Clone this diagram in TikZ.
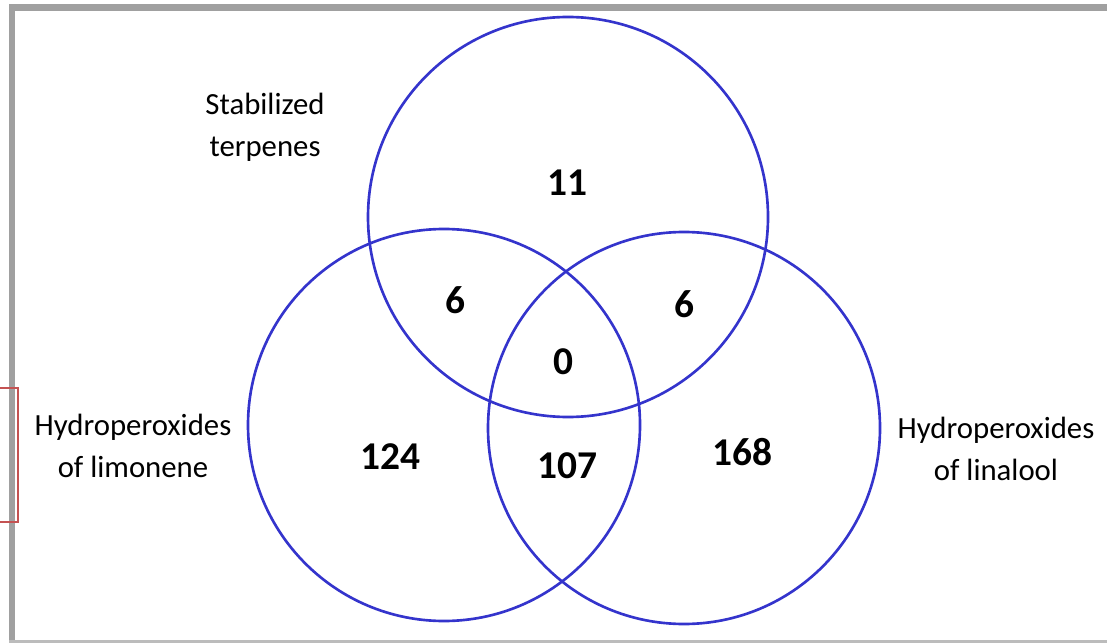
\documentclass[tikz,border=0pt]{standalone}
\usepackage{fontspec}
\setmainfont{Carlito}
\definecolor{ringblue}{RGB}{52,52,204}
\definecolor{framegray}{RGB}{160,160,160}
\definecolor{markred}{RGB}{196,82,82}
\begin{document}
\begin{tikzpicture}[x=0.01cm, y=-0.01cm,
  setlabel/.style={align=center, font=\fontsize{8.75}{12}\selectfont},
  count/.style={font=\fontsize{11.2}{13}\selectfont\bfseries}]
%definitions
\def\topcirc{(568,217) circle [radius=200]}
\def\leftcirc{(444,425) circle [radius=196]}
\def\rightcirc{(684,428) circle [radius=196]}

\useasboundingbox (0,0) rectangle (1107,643);

%frame
\fill[framegray] (9,4) rectangle (15,643);
\fill[framegray] (9,4) rectangle (1107,11);
\fill[framegray!70] (9,640) rectangle (1107,643);
\draw[markred, line width=0.8pt] (0,388) -- (18,388) -- (18,522) -- (0,522);

%shapes
\draw[ringblue, line width=0.75pt] \topcirc;
\draw[ringblue, line width=0.75pt] \leftcirc;
\draw[ringblue, line width=0.75pt] \rightcirc;

%labels
\node[setlabel] (stab) at (265,127) {Stabilized\\terpenes};
\node[setlabel] (limo) at (133,446) {Hydroperoxides\\of limonene};
\node[setlabel] (lina) at (996,449) {Hydroperoxides\\of linalool};

%counts
\node[count] (n11) at (567,183) {11};
\node[count] (n6a) at (455,300) {6};
\node[count] (n6b) at (684,304) {6};
\node[count] (n0) at (563,362) {0};
\node[count] (n124) at (390,457) {124};
\node[count] (n107) at (567,466) {107};
\node[count] (n168) at (742,452) {168};
\end{tikzpicture}
\end{document}
